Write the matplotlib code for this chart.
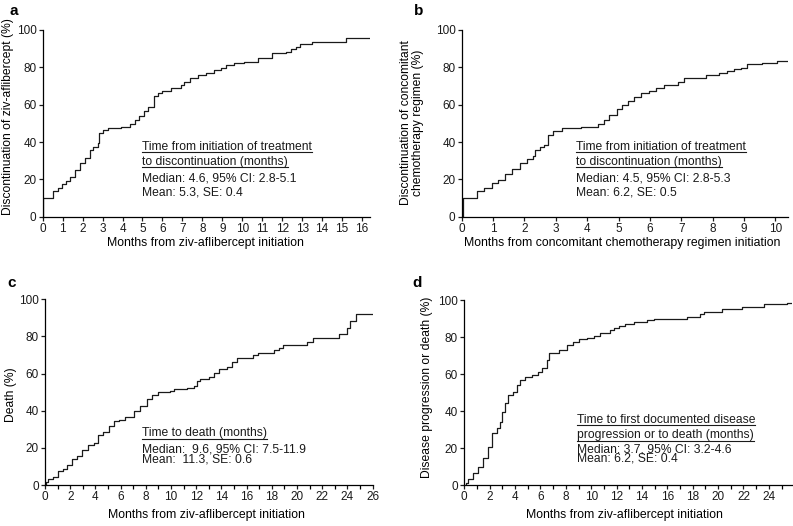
import matplotlib
matplotlib.use('Agg')
import matplotlib.pyplot as plt
from matplotlib.lines import Line2D
from matplotlib.ticker import MultipleLocator
import numpy as np

plt.rcParams.update({
    'font.family': ['Liberation Sans', 'DejaVu Sans'],
    'font.size': 8,
    'axes.linewidth': 0.9,
    'xtick.major.size': 3,
    'ytick.major.size': 3,
    'xtick.minor.size': 3,
    'xtick.major.width': 0.9,
    'ytick.major.width': 0.9,
    'xtick.minor.width': 0.9,
    'xtick.major.pad': 1.5,
    'ytick.major.pad': 1.5,
})

# --- DATA (months, cumulative %) ---
a_months = [0, 0.5, 0.77, 0.96, 1.18, 1.35, 1.6, 1.85, 2.1, 2.35, 2.5, 2.77, 2.8, 3.0, 3.27,
            3.93, 4.35, 4.6, 4.85, 5.06, 5.3, 5.6, 5.77, 6.0, 6.43, 6.93, 7.1, 7.4, 7.77, 8.2,
            8.6, 8.95, 9.2, 9.6, 10.1, 10.8, 11.5, 12.2, 12.45, 12.7, 12.9, 13.5, 15.2]
a_pct = [9.8, 13.7, 15.2, 17.3, 19.1, 21.4, 25, 28.6, 31.2, 35.7, 37.5, 39.3, 44.6, 46.4, 47.7,
         48.2, 49.5, 51.8, 54.1, 56.5, 58.9, 64.8, 66, 67.3, 68.8, 70.5, 72, 74.5, 75.9, 76.8,
         78.5, 79.4, 81.2, 82.2, 83, 85.2, 87.5, 88.4, 89.6, 91, 92.3, 93.4, 95.5]

b_months = [0.04, 0.49, 0.72, 0.96, 1.17, 1.39, 1.6, 1.86, 2.07, 2.28, 2.35, 2.5, 2.62, 2.75, 2.9,
            3.2, 3.8, 4.35, 4.52, 4.71, 4.95, 5.1, 5.3, 5.5, 5.71, 5.98, 6.19, 6.45, 6.88, 7.09,
            7.78, 8.2, 8.47, 8.68, 8.9, 9.1, 9.58, 10.05]
b_pct = [9.8, 13.9, 15.2, 17.9, 19.6, 22.7, 25.5, 28.6, 30.9, 32.5, 35.7, 37.2, 38.6, 43.5, 45.8,
         47.5, 48.2, 49.5, 52, 54.5, 57.5, 60, 62, 64.3, 66.1, 67.5, 69.1, 70.5, 71.9, 74.4,
         75.9, 77.2, 78.1, 79.1, 79.8, 81.6, 82.5, 83.6]

c_months = [0.05, 0.2, 0.66, 1.06, 1.46, 1.72, 2.12, 2.5, 2.9, 3.45, 3.85, 4.24, 4.64, 5.04, 5.44,
            5.84, 6.37, 7.03, 7.56, 8.1, 8.5, 9.0, 9.95, 10.2, 11.27, 11.8, 12.07, 12.3, 12.99, 13.39,
            13.79, 14.45, 14.85, 15.2, 16.5, 16.9, 18.2, 18.6, 18.9, 20.75, 21.3, 23.3, 24.0, 24.2, 24.65]
c_pct = [1.5, 3, 4.5, 7.7, 8.5, 11, 14, 15.6, 18.6, 21.8, 22.5, 27, 28.6, 32, 34.5,
         35, 36.5, 40, 42.5, 46.5, 48.5, 50, 50.8, 51.7, 52.5, 53.5, 56, 57, 58, 60.2,
         62.5, 63.5, 66, 68.5, 70, 71, 72.5, 74, 75.4, 77, 79.4, 81.5, 84.5, 88.5, 92.3]

d_months = [0.1, 0.32, 0.71, 1.1, 1.5, 1.9, 2.16, 2.56, 2.82, 2.95, 3.21, 3.48, 3.87, 4.13, 4.4,
            4.79, 5.32, 5.84, 6.1, 6.5, 6.65, 7.27, 7.5, 8.08, 8.6, 9.0, 9.66, 10.2, 10.7, 11.5,
            11.76, 12.16, 12.68, 13.34, 14.39, 14.92, 17.55, 18.6, 18.87, 20.3, 21.9, 23.6, 25.4]
d_pct = [1, 3.1, 6.3, 9.9, 14.4, 20.8, 28, 30.7, 34.3, 39.7, 44.2, 48.7, 50.5, 54.2, 56.9,
         58.3, 59.6, 61.4, 63.2, 67.7, 71.3, 71.7, 73.1, 75.8, 77.6, 78.9, 79.8, 80.7, 82.1, 84,
         84.9, 86.1, 87, 88.3, 89.4, 89.9, 91.2, 92.4, 93.5, 95.3, 96.5, 97.8, 98.7]

panel_letters = ['a', 'b', 'c', 'd']
x_labels = ['Months from ziv-aflibercept initiation',
            'Months from concomitant chemotherapy regimen initiation',
            'Months from ziv-aflibercept initiation',
            'Months from ziv-aflibercept initiation']
y_labels = ['Discontinuation of ziv-aflibercept (%)',
            'Discontinuation of concomitant\nchemotherapy regimen (%)',
            'Death (%)',
            'Disease progression or death (%)']
box_titles = [['Time from initiation of treatment', 'to discontinuation (months)'],
              ['Time from initiation of treatment', 'to discontinuation (months)'],
              ['Time to death (months)'],
              ['Time to first documented disease', 'progression or to death (months)']]
box_stats = [['Median: 4.6, 95% CI: 2.8-5.1', 'Mean: 5.3, SE: 0.4'],
             ['Median: 4.5, 95% CI: 2.8-5.3', 'Mean: 6.2, SE: 0.5'],
             ['Median:  9.6, 95% CI: 7.5-11.9', 'Mean:  11.3, SE: 0.6'],
             ['Median: 3.7, 95% CI: 3.2-4.6', 'Mean: 6.2, SE: 0.4']]

W, H = 793, 526
fig = plt.figure(figsize=(W / 100, H / 100), dpi=100)


def px_axes(l, t, r, b):
    return fig.add_axes([l / W, 1 - b / H, (r - l) / W, (b - t) / H])


# axes boxes in pixels: left, top, right, bottom
boxes = [(42.7, 30, 370, 216.7), (461.7, 30, 788, 216.7),
         (45, 299.3, 372.7, 485), (464.3, 300.3, 791.7, 485)]
series = [(a_months, a_pct), (b_months, b_pct), (c_months, c_pct), (d_months, d_pct)]
xmaxes = [16.4, 10.4, 26.0, 25.8]
# annotation placement: x in months, y of each title line and of the stats block centre (%)
text_x = [5.0, 3.65, 7.7, 8.87]
title_y = [[37.5, 29.5], [37.5, 29.5], [27.8], [35.2, 27.0]]
stats_y = [16.8, 16.8, 16.3, 16.7]
stats_spacing = [1.25, 1.25, 0.72, 0.72]
letter_pos = [(9, 4), (414, 4), (7, 276), (412, 276)]
ylab_pos = [(8, 117), (412, 123), (11, 395), (427, 387)]
xlab_pos = [(205, 243), (622, 243), (206, 515), (624, 515)]

underlined = []
for i, (t, p) in enumerate(series):
    ax = px_axes(*boxes[i])
    xs = np.r_[0, t, xmaxes[i]]
    ys = np.r_[0, p, p[-1]]
    ax.step(xs, ys, where='post', color='#1a1a1a', lw=0.9)
    ax.set_xlim(0, xmaxes[i])
    ax.set_ylim(0, 100)
    ax.spines['top'].set_visible(False)
    ax.spines['right'].set_visible(False)
    ax.set_yticks([0, 20, 40, 60, 80, 100])
    if i < 2:
        ax.xaxis.set_major_locator(MultipleLocator(1))
    else:
        ax.xaxis.set_major_locator(MultipleLocator(2))
        ax.xaxis.set_minor_locator(MultipleLocator(1))
    ax.tick_params(labelsize=8.5, colors='#1a1a1a')

    for j, s in enumerate(box_titles[i]):
        txt = ax.text(text_x[i], title_y[i][j], s, fontsize=8.7, va='center', ha='left', color='#1a1a1a')
        underlined.append(txt)
    ax.text(text_x[i], stats_y[i], '\n'.join(box_stats[i]), fontsize=8.7, va='center', ha='left',
            color='#1a1a1a', linespacing=stats_spacing[i])

    lx, ly = letter_pos[i]
    fig.text(lx / W, 1 - ly / H, panel_letters[i], fontsize=11, fontweight='bold', va='top', ha='left')
    yx, yy = ylab_pos[i]
    fig.text(yx / W, 1 - yy / H, y_labels[i], rotation=90, ha='center', va='center',
             fontsize=8.7, multialignment='center', linespacing=1.05)
    xx, xy = xlab_pos[i]
    fig.text(xx / W, 1 - xy / H, x_labels[i], ha='center', va='center', fontsize=8.8)

# underline the box titles
fig.canvas.draw()
renderer = fig.canvas.get_renderer()
inv = fig.transFigure.inverted()
for txt in underlined:
    bb = txt.get_window_extent(renderer)
    (x0, y0), (x1, _) = inv.transform([[bb.x0, bb.y0 + 0.5], [bb.x1, bb.y0 + 0.5]])
    fig.add_artist(Line2D([x0, x1], [y0, y0], transform=fig.transFigure, lw=0.8, color='#1a1a1a'))

fig.savefig('out.png', dpi=100)
